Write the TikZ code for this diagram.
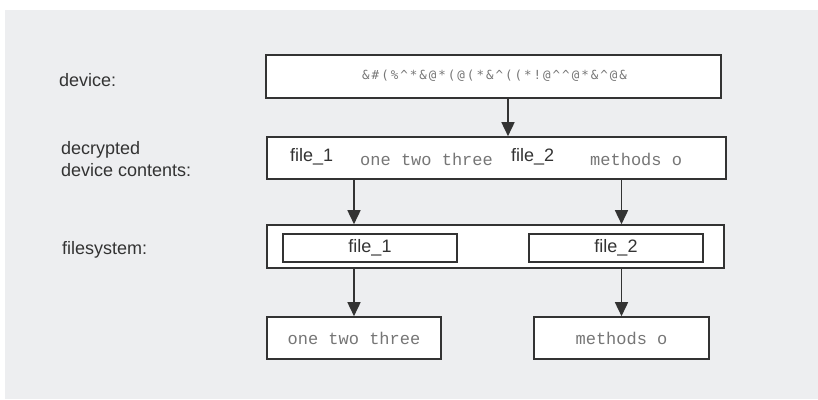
\documentclass[tikz,border=0pt]{standalone}
\usepackage{fontspec}
\setmainfont{Liberation Sans}
\newfontfamily\codefont{Liberation Mono}
\newfontfamily\cipherfont[LetterSpace=16]{DejaVu Sans Mono}
\usetikzlibrary{arrows.meta}
\definecolor{bg}{HTML}{EDEEF0}
\definecolor{ink}{HTML}{333333}
\definecolor{codegray}{HTML}{767676}

\begin{document}
\begin{tikzpicture}[x=1pt,y=-1pt,
  box/.style={draw=ink, line width=1.6pt, fill=white, inner sep=0pt},
  sanslabel/.style={text=ink, font=\fontsize{18}{22}\selectfont, inner sep=0pt},
  codelabel/.style={text=codegray, font=\codefont\fontsize{17}{20}\selectfont, inner sep=0pt},
  rowlabel/.style={sanslabel, anchor=west, align=left},
  arr/.style={draw=ink, line width=1.6pt, -{Triangle[width=13pt,length=14pt]}}
]
\useasboundingbox (0,0) rectangle (818,399);
\fill[bg] (5,10) rectangle (818,399);

% row labels
\node[rowlabel] (ldev) at (59,80) {device:};
\node[rowlabel] (ldec) at (61,159) {decrypted\\device contents:};
\node[rowlabel] (lfs) at (62,250) {filesystem:};

% encrypted device
\node[box, minimum width=455pt, minimum height=43pt] (dev) at (493.5,76.5) {};
\node[text=codegray, inner sep=0pt, anchor=west, font=\cipherfont\fontsize{12.5}{15}\selectfont]
  (cipher) at (362,76) {\&\#(\%\^{}*\&@*(@(*\&\^{}((*!@\^{}\^{}@*\&\^{}@\&};

% decrypted contents
\node[box, minimum width=459pt, minimum height=42pt] (dec) at (496.5,158) {};
\node[sanslabel, anchor=west] (d1) at (290,157) {file\_1};
\node[codelabel, anchor=west] (d2) at (360,159) {one two three};
\node[sanslabel, anchor=west] (d3) at (511,157) {file\_2};
\node[codelabel, anchor=west] (d4) at (590,159) {methods o};

% filesystem
\node[box, minimum width=457pt, minimum height=43pt] (fs) at (495.5,246.5) {};
\node[box, sanslabel, minimum width=174pt, minimum height=28pt] (f1) at (370,248) {file\_1};
\node[box, sanslabel, minimum width=174pt, minimum height=28pt] (f2) at (616,248) {file\_2};

% file contents
\node[box, codelabel, minimum width=174pt, minimum height=42pt] (b1) at (354,338) {one two three};
\node[box, codelabel, minimum width=175pt, minimum height=42pt] (b2) at (621.5,338) {methods o};

% connectors
\coordinate (a1) at (508,0);
\draw[arr] (dev.south -| a1) -- (dec.north -| a1);
\draw[arr] (dec.south -| b1) -- (fs.north -| b1);
\draw[arr] (dec.south -| b2) -- (fs.north -| b2);
\draw[arr] (fs.south -| b1) -- (b1.north);
\draw[arr] (fs.south -| b2) -- (b2.north);
\end{tikzpicture}
\end{document}
